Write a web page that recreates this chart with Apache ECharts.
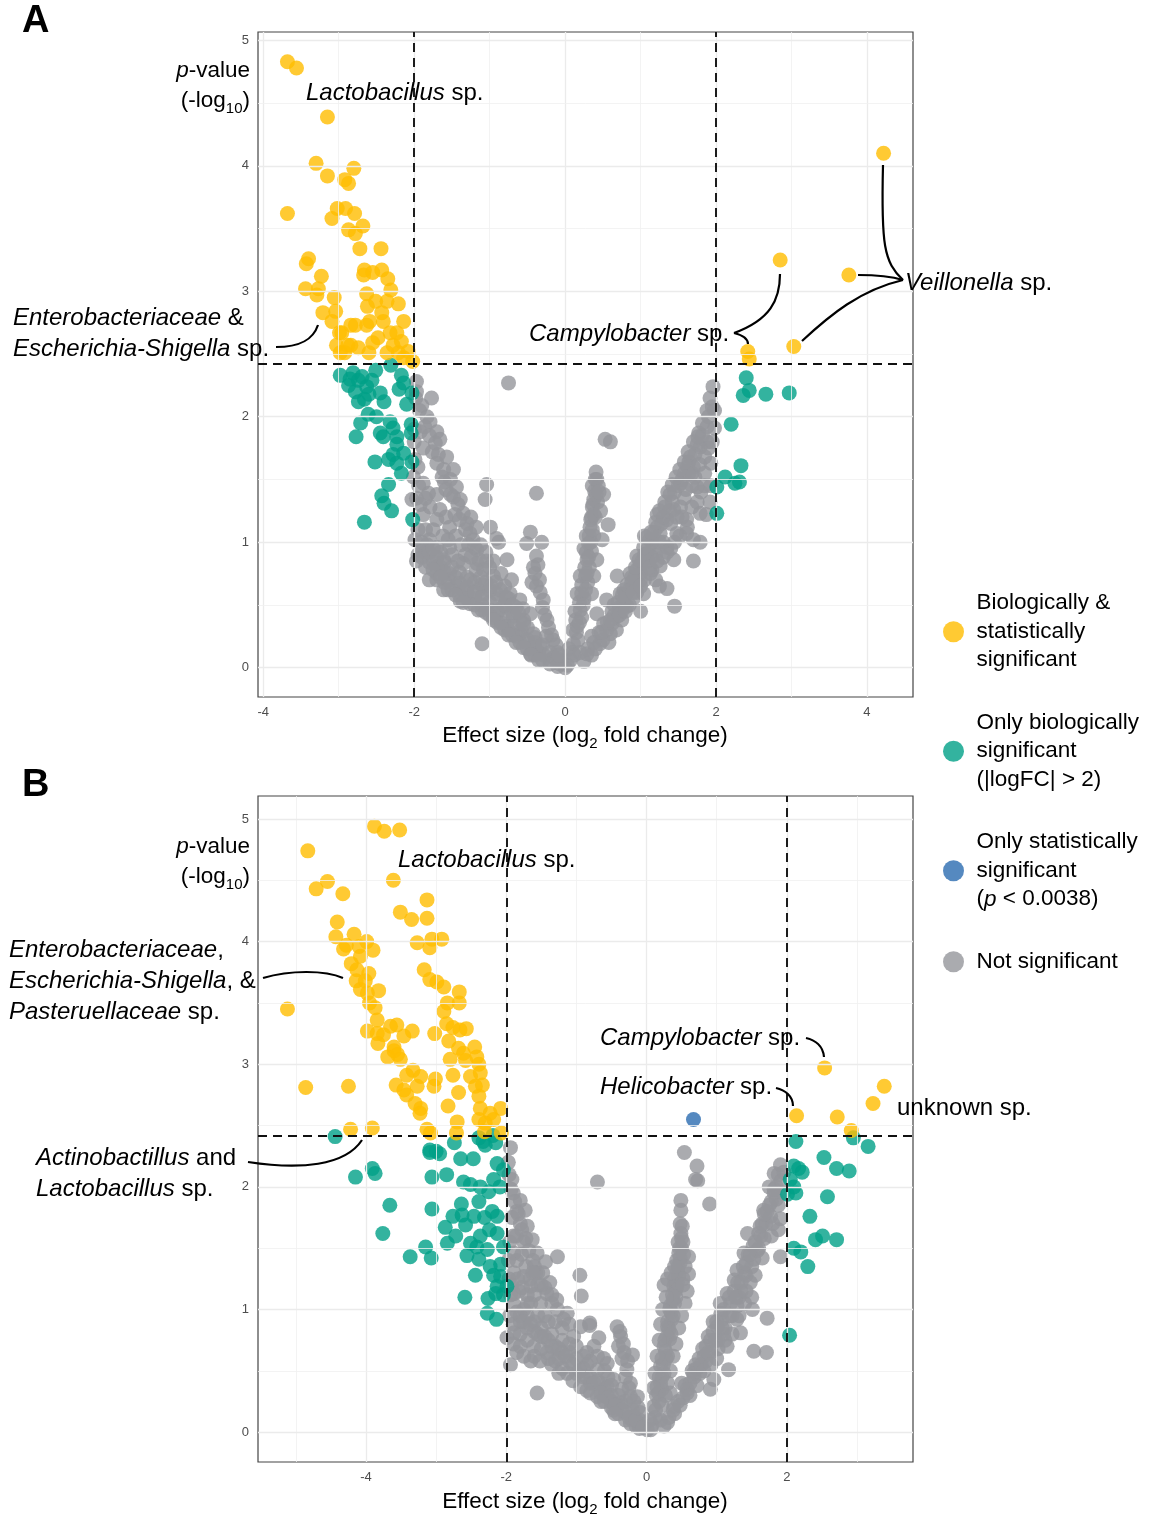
<!DOCTYPE html>
<html><head><meta charset="utf-8">
<script src="https://cdn.jsdelivr.net/npm/echarts@6/dist/echarts.min.js"></script>
<style>html,body{margin:0;padding:0;background:#fff}#c{width:1150px;height:1517px}</style>
</head><body><div id="c"></div><script>
// ---------- thresholds & ticks ----------
const fcThreshold = 2;
const pThreshold = 2.42; // -log10(0.0038)
const xTicksA = [-4, -2, 0, 2, 4];
const xMinorA = [-3, -1, 1, 3];
const xTicksB = [-4, -2, 0, 2];
const xMinorB = [-5, -3, -1, 1, 3];
const yTicks = [0, 1, 2, 3, 4, 5];
const yMinor = [0.5, 1.5, 2.5, 3.5, 4.5];

// ---------- Panel A data ----------
const aBoth = [[-3.68,4.83],[-3.56,4.78],[-3.15,4.39],[-3.30,4.02],[-2.80,3.98],[-3.15,3.92],[-2.92,3.89],[-2.87,3.86],[-3.68,3.62],[-3.02,3.66],[-2.91,3.66],[-2.79,3.62],[-3.09,3.58],[-2.68,3.52],[-2.87,3.49],[-2.78,3.46],[-2.72,3.34],[-2.44,3.34],[-3.40,3.26],[-3.43,3.22],[-3.23,3.12],[-2.66,3.17],[-2.67,3.13],[-2.55,3.15],[-2.43,3.17],[-2.35,3.10],[-2.31,3.01],[-3.44,3.02],[-3.27,3.02],[-3.29,2.97],[-3.06,2.95],[-2.63,2.98],[-2.51,2.92],[-2.62,2.88],[-2.36,2.92],[-2.21,2.90],[-3.21,2.83],[-3.04,2.84],[-3.09,2.76],[-2.43,2.83],[-2.41,2.76],[-2.14,2.76],[-2.59,2.76],[-2.63,2.73],[-2.84,2.73],[-2.78,2.73],[-2.99,2.67],[-2.96,2.67],[-2.32,2.67],[-2.23,2.67],[-2.48,2.63],[-2.55,2.59],[-3.03,2.57],[-2.88,2.57],[-2.84,2.57],[-2.74,2.55],[-2.98,2.51],[-2.92,2.51],[-2.60,2.51],[-2.36,2.51],[-2.28,2.57],[-2.17,2.60],[-2.21,2.51],[-2.08,2.52],[-2.02,2.44],[-2.14,2.47],
  [4.22,4.10],[2.85,3.25],[3.76,3.13],[3.03,2.56],[2.42,2.52],[2.44,2.46]];
const aBio = [[-2.98,2.33],[-2.87,2.25],[-2.81,2.35],[-2.74,2.29],[-2.69,2.32],[-2.63,2.24],[-2.56,2.29],[-2.51,2.37],[-2.31,2.41],[-2.17,2.33],[-2.14,2.27],[-2.03,2.19],[-2.74,2.12],[-2.66,2.14],[-2.45,2.19],[-2.40,2.12],[-2.10,2.10],[-2.61,2.02],[-2.50,2.00],[-2.71,1.95],[-2.77,1.84],[-2.45,1.87],[-2.41,1.84],[-2.32,1.96],[-2.28,1.91],[-2.23,1.84],[-2.04,1.94],[-2.04,1.87],[-2.23,1.78],[-2.14,1.71],[-2.52,1.64],[-2.34,1.66],[-2.23,1.63],[-2.03,1.64],[-2.17,1.55],[-2.34,1.46],[-2.43,1.37],[-2.40,1.31],[-2.30,1.25],[-2.66,1.16],[-2.02,1.18],[-2.85,2.30],[-2.78,2.20],[-2.60,2.18],[-2.20,2.22],[-2.28,1.70],
  [2.40,2.31],[2.44,2.21],[2.36,2.17],[2.66,2.18],[2.97,2.19],[2.20,1.94],[2.33,1.61],[2.12,1.52],[2.25,1.47],[2.31,1.48],[2.01,1.44],[2.01,1.23]];
const aNot = [[-1.97,2.28],[-1.97,2.20],[-1.77,2.15],[-1.90,2.09],[-1.83,2.00],[-1.79,1.96],[-1.70,1.88],[-1.66,1.82],[-1.92,1.88],[-1.88,1.75],[-1.72,1.79],[-1.57,1.68],[-1.48,1.58],[-1.61,1.58],[-1.70,1.63],[-1.99,1.66],[-2.01,1.52],[-1.88,1.47],[-1.81,1.39],[-1.70,1.38],[-1.97,1.35],[-2.03,1.34],[-1.79,1.28],[-1.66,1.26],[-1.44,1.44],[-1.48,1.36],[-1.39,1.34],[-1.35,1.23],[-1.30,1.15],[-1.53,1.12],[-1.70,1.18],[-1.88,1.22],[-1.95,1.10],[-1.99,1.02],[-1.83,0.98],[-1.70,0.96],[-1.53,0.96],[-1.26,1.07],[-1.22,1.02],[-1.17,0.94],[-1.97,0.85],[-1.95,0.90],[-1.61,0.86],[-1.70,0.75],[-1.53,0.75],[-1.35,0.83],[-1.17,0.83],[-1.04,0.85],[-1.61,0.62],[-1.44,0.65],[-1.26,0.70],[-1.39,0.53],[-1.26,0.51],[-1.08,0.59],[-0.95,0.73],[-0.91,0.59],[-0.99,0.46],[-0.82,0.49],[-0.73,0.59],[-0.69,0.41],[-0.60,0.54],[-0.55,0.38],[-0.46,0.43],[-0.77,0.33],[-0.60,0.27],[-0.42,0.27],[-0.33,0.17],[-0.46,0.11],[-0.20,0.06],[-0.07,0.03],[-1.10,0.19],[-0.51,0.99],[-0.46,1.08],[-0.31,1.00],[-0.38,0.89],[-0.40,0.75],[-0.38,0.65],[-0.29,0.54],[-0.24,0.38],[-0.16,0.22],[-0.38,1.39],[-0.75,2.27],[-1.04,1.46],[-1.06,1.34],[-0.99,1.12],[-0.91,1.03],[-0.77,0.86],[-0.71,0.70],[-0.88,1.00],
  [-1.85,0.92],[-1.75,0.85],[-1.65,0.80],[-1.55,0.70],[-1.45,0.72],[-1.35,0.62],[-1.30,0.60],[-1.20,0.55],[-1.15,0.62],[-1.10,0.50],[-1.00,0.52],[-0.95,0.40],[-0.88,0.45],[-0.85,0.36],[-0.80,0.40],[-0.75,0.30],[-0.68,0.33],[-0.65,0.25],[-0.58,0.30],[-0.52,0.20],[-0.50,0.32],[-0.40,0.20],[-0.35,0.12],[-0.28,0.10],[-0.25,0.25],[-0.15,0.08],[-0.10,0.12],[-0.05,0.05],[0.00,0.00],[0.03,0.02],[-1.80,0.70],[-1.60,1.48],[-1.52,1.50],[-1.42,1.30],[-1.25,1.20],[-1.18,1.12],[-1.12,0.98],[-1.05,0.92],[-1.00,0.80],[-0.95,0.85],[-0.85,0.75],[-0.80,0.65],[-0.75,0.55],[-0.65,0.48],[-0.56,0.47],
  [-1.90,0.93],[-1.90,1.00],[-1.90,0.88],[-1.80,0.92],[-1.80,0.84],[-1.80,1.02],[-1.70,0.88],[-1.70,0.80],[-1.70,0.70],[-1.60,0.84],[-1.60,0.76],[-1.60,0.68],[-1.50,0.80],[-1.50,0.62],[-1.40,0.76],[-1.40,0.67],[-1.40,0.58],[-1.30,0.72],[-1.30,0.64],[-1.30,0.55],[-1.20,0.68],[-1.20,0.60],[-1.20,0.50],[-1.10,0.66],[-1.10,0.56],[-1.10,0.46],[-1.00,0.62],[-1.00,0.42],[-0.90,0.55],[-0.90,0.45],[-0.90,0.36],[-0.80,0.50],[-0.80,0.30],[-0.70,0.44],[-0.70,0.26],[-0.60,0.38],[-0.60,0.20],[-0.50,0.22],[-0.50,0.15],[-0.40,0.24],[-0.40,0.16],[-0.40,0.10],[-0.30,0.18],[-0.30,0.06],[-0.20,0.12],[-0.20,0.03],[-0.10,0.07],[-0.10,0.01],
  [-1.98,2.15],[-1.93,2.05],[-1.86,1.92],[-1.80,1.85],[-1.76,1.72],[-1.68,1.70],[-1.63,1.52],[-1.58,1.42],[-1.52,1.38],[-1.46,1.22],[-1.40,1.18],[-1.32,1.10],[-1.28,0.98],[-1.20,0.96],[-1.14,0.86],[-1.08,0.78],[-2.00,1.90],[-2.00,1.80],[-1.95,1.60],[-1.94,1.45],[-1.92,1.30],[-1.85,1.35],[-1.85,1.10],[-1.75,1.10],[-1.62,1.05],[-1.58,1.20],
  [-1.45,1.05],[-1.38,0.98],[-1.32,0.90],[-1.25,0.88],[-1.18,0.78],[-1.12,0.72],[-1.05,0.68],[-0.98,0.65],[-0.92,0.68],[-0.86,0.62],[-0.78,0.56],[-0.70,0.50],[-0.62,0.44],[-0.55,0.35],[-1.50,0.90],[-1.42,0.85],[-1.55,1.02],[-1.65,0.92],[-1.75,0.95],[-1.85,0.80],[-1.75,0.78],[-1.65,0.72],[-1.55,0.62],[-1.45,0.58],[-1.35,0.52],[-1.15,0.46],[-1.05,0.44],[-0.95,0.38],[-0.85,0.32],[-0.75,0.26],[-0.65,0.20],[-0.55,0.16],[-0.45,0.10],[-0.35,0.06],
  [-0.36,0.82],[-0.34,0.70],[-0.33,0.60],[-0.30,0.48],[-0.27,0.42],[-0.22,0.32],[-0.18,0.26],[-0.12,0.18],[-0.08,0.10],[-0.42,0.80],[-0.44,0.68],
  [0.07,0.06],[0.11,0.19],[0.16,0.33],[0.20,0.46],[0.22,0.59],[0.27,0.73],[0.29,0.86],[0.31,0.99],[0.33,1.12],[0.35,1.20],[0.38,1.34],[0.39,1.41],[0.40,1.50],[0.41,1.56],[0.53,1.82],[0.60,1.80],[0.51,1.38],[0.57,1.14],[0.49,1.02],[0.42,0.86],[0.38,0.73],[0.35,0.59],[0.20,0.73],[0.16,0.59],[0.25,0.95],[0.28,1.05],[0.36,1.28],[0.13,0.45],[0.10,0.30],[0.05,0.15],
  [0.12,0.10],[0.17,0.22],[0.14,0.38],[0.22,0.40],[0.19,0.52],[0.25,0.55],[0.22,0.66],[0.30,0.68],[0.26,0.80],[0.32,0.80],[0.28,0.92],[0.35,0.93],[0.32,1.05],[0.38,1.05],[0.34,1.18],[0.40,1.20],[0.37,1.30],[0.43,1.32],[0.44,1.45],[0.36,1.45],
  [0.10,0.12],[0.15,0.28],[0.19,0.36],[0.24,0.50],[0.27,0.62],[0.29,0.75],[0.31,0.88],[0.34,1.00],[0.36,1.10],[0.38,1.22],[0.41,1.38],[0.42,1.50],[0.45,1.40],[0.47,1.25],
  [0.29,0.11],[0.46,0.19],[0.60,0.27],[0.51,0.35],[0.69,0.41],[0.82,0.49],[0.73,0.59],[0.91,0.65],[1.04,0.59],[0.86,0.75],[0.99,0.81],[1.08,0.91],[0.95,0.89],[1.13,0.75],[1.26,0.81],[1.17,0.96],[1.26,1.07],[1.35,0.96],[1.44,0.86],[1.48,1.07],[1.61,1.07],[1.70,1.02],[1.79,1.00],[1.70,0.85],[1.35,0.63],[1.45,0.49],[1.22,1.22],[1.35,1.18],[1.44,1.26],[1.39,1.38],[1.53,1.28],[1.61,1.18],[1.53,1.47],[1.64,1.55],[1.64,1.64],[1.70,1.60],[1.75,1.44],[1.79,1.23],[1.87,1.22],[1.92,1.32],[1.77,1.87],[1.79,1.76],[1.90,1.75],[1.93,1.63],[1.96,2.24],[1.98,1.91],[0.69,0.73],[0.55,0.54],[0.42,0.43],[0.35,0.25],[0.20,0.12],[0.78,0.62],[1.00,0.70],[1.10,0.85],[1.20,0.90],[1.30,1.00],[1.40,1.15],[1.55,1.20],[1.58,1.35],[1.68,1.45],[1.72,1.52],[1.85,1.68],[1.88,1.80],[0.90,0.55],[0.65,0.50],[0.75,0.45],[1.15,1.00],[1.05,1.05],[1.20,0.70],[1.00,0.45],[1.25,0.65],
  [0.25,0.05],[0.35,0.10],[0.40,0.15],[0.50,0.22],[0.55,0.30],[0.62,0.35],[0.65,0.42],[0.72,0.48],[0.78,0.52],[0.80,0.58],[0.85,0.62],[0.88,0.68],[0.92,0.72],[0.95,0.78],[1.00,0.75],[1.02,0.85],[1.05,0.90],[1.10,0.95],[1.12,1.02],[1.15,0.88],[1.18,1.08],[1.22,1.12],[1.25,1.00],[1.28,1.15],[1.30,1.20],[1.32,1.28],[1.38,1.25],[1.42,1.32],[1.45,1.40],[1.48,1.20],[1.50,1.45],[1.55,1.50],[1.58,1.55],[1.60,1.42],[1.62,1.60],[1.66,1.68],[1.68,1.55],[1.72,1.70],[1.75,1.78],[1.78,1.62],[1.82,1.85],[1.85,1.55],[1.88,1.92],[1.90,2.00],[1.95,2.08],[0.45,0.28],[0.58,0.20],[0.68,0.30],[0.75,0.38],[0.85,0.50],[0.95,0.60],[1.05,0.70],[1.15,0.78],[1.30,0.88],[1.40,0.95],
  [0.30,0.15],[0.38,0.20],[0.48,0.28],[0.56,0.36],[0.62,0.45],[0.70,0.52],[0.76,0.58],[0.82,0.66],[0.88,0.72],[0.93,0.80],[0.98,0.86],[1.04,0.96],[1.08,1.04],[1.14,1.08],[1.20,1.16],[1.25,1.25],[1.32,1.32],[1.36,1.40],[1.42,1.46],[1.47,1.52],[1.52,1.58],[1.58,1.64],[1.63,1.72],[1.70,1.80],[1.76,1.84],[1.82,1.95],[1.88,2.05],[1.92,2.15],[0.60,0.38],[0.72,0.42],[0.80,0.45],[0.90,0.60],[1.00,0.65],[1.12,0.80],[1.22,0.85],[1.35,0.92],[1.45,1.00],[1.52,1.05],[1.62,1.12],[1.68,1.28],[1.75,1.32],[1.80,1.40],[1.85,1.45],[1.93,1.45],[1.95,1.80],[1.98,2.05]];

// ---------- Panel B data ----------
const bBoth = [[-4.83,4.74],[-3.88,4.94],[-3.74,4.90],[-3.52,4.91],[-4.55,4.49],[-4.71,4.43],[-4.33,4.39],[-3.61,4.50],[-3.13,4.34],[-3.51,4.24],[-3.35,4.18],[-3.13,4.19],[-4.41,4.16],[-4.43,4.04],[-4.17,4.06],[-3.99,4.00],[-3.90,3.93],[-4.10,3.96],[-4.32,3.94],[-4.28,3.97],[-3.27,3.99],[-3.06,4.02],[-2.92,4.02],[-3.09,3.95],[-4.08,3.88],[-4.21,3.82],[-4.13,3.77],[-3.96,3.74],[-4.14,3.68],[-4.01,3.68],[-4.08,3.61],[-3.82,3.60],[-3.98,3.58],[-3.17,3.77],[-3.09,3.69],[-2.99,3.67],[-2.89,3.63],[-2.67,3.59],[-5.12,3.45],[-3.95,3.50],[-3.87,3.46],[-2.84,3.50],[-2.67,3.50],[-2.89,3.43],[-3.84,3.36],[-3.98,3.27],[-3.84,3.25],[-3.75,3.24],[-3.65,3.31],[-3.56,3.32],[-3.46,3.23],[-3.34,3.27],[-3.02,3.25],[-2.85,3.33],[-2.76,3.30],[-2.66,3.28],[-2.57,3.29],[-3.83,3.17],[-3.60,3.14],[-3.60,3.11],[-2.82,3.19],[-2.68,3.13],[-2.61,3.09],[-2.45,3.14],[-3.69,3.06],[-3.51,3.04],[-3.55,3.08],[-2.80,3.04],[-2.58,3.03],[-2.42,3.06],[-2.39,3.00],[-2.76,2.91],[-2.51,2.90],[-2.37,2.93],[-3.33,2.95],[-3.42,2.91],[-3.22,2.90],[-3.01,2.88],[-4.86,2.81],[-4.25,2.82],[-3.57,2.83],[-3.46,2.79],[-3.42,2.75],[-3.27,2.82],[-3.03,2.82],[-2.68,2.77],[-2.44,2.82],[-2.34,2.83],[-3.30,2.68],[-3.22,2.64],[-3.23,2.60],[-2.83,2.66],[-2.39,2.74],[-2.37,2.64],[-2.23,2.60],[-2.08,2.64],[-2.18,2.55],[-2.70,2.53],[-2.39,2.55],[-2.30,2.52],[-3.13,2.47],[-3.08,2.44],[-2.71,2.44],[-2.31,2.45],[-2.07,2.44],[-4.22,2.47],[-3.91,2.48],
  [2.54,2.97],[3.39,2.82],[3.23,2.68],[2.72,2.57],[2.14,2.58],[2.92,2.46]];
const bBio = [[-4.44,2.41],[-3.09,2.30],[-3.00,2.29],[-2.74,2.36],[-2.39,2.40],[-2.33,2.37],[-2.19,2.42],[-2.15,2.36],[-4.15,2.08],[-3.91,2.15],[-3.87,2.11],[-3.66,1.85],[-3.76,1.62],[-3.37,1.43],[-3.15,1.51],[-3.07,1.42],[-3.09,2.28],[-2.95,2.27],[-3.06,2.08],[-2.85,2.10],[-2.65,2.23],[-2.47,2.23],[-2.30,2.34],[-2.13,2.19],[-2.04,2.14],[-2.61,2.04],[-2.51,2.02],[-2.37,2.00],[-2.18,2.06],[-2.25,1.96],[-2.39,1.88],[-2.09,2.00],[-3.06,1.82],[-2.64,1.86],[-2.63,1.77],[-2.76,1.76],[-2.46,1.76],[-2.31,1.75],[-2.20,1.80],[-2.13,1.76],[-2.87,1.67],[-2.58,1.69],[-2.72,1.60],[-2.84,1.54],[-2.51,1.54],[-2.37,1.60],[-2.24,1.65],[-2.13,1.62],[-2.42,1.51],[-2.27,1.49],[-2.04,1.51],[-2.56,1.44],[-2.39,1.41],[-2.23,1.35],[-2.08,1.37],[-2.44,1.28],[-2.18,1.28],[-2.08,1.27],[-2.13,1.19],[-1.99,1.19],[-2.15,1.13],[-2.04,1.12],[-2.59,1.10],[-2.26,1.09],[-2.27,0.97],[-2.14,0.92],
  [2.13,2.37],[2.95,2.40],[3.16,2.33],[2.53,2.24],[2.71,2.15],[2.89,2.13],[2.10,2.17],[2.17,2.15],[2.22,2.12],[2.05,2.06],[2.10,2.00],[2.01,1.94],[2.13,1.95],[2.58,1.92],[2.33,1.76],[2.41,1.57],[2.51,1.60],[2.71,1.57],[2.10,1.50],[2.20,1.47],[2.30,1.35],[2.04,0.79]];
const bStat = [[0.67,2.55]];
const bNot = [[-1.94,2.32],[-1.92,2.06],[-1.97,2.20],[-1.90,1.95],[-1.80,1.89],[-1.73,1.81],[-1.85,1.80],[-1.70,1.68],[-1.80,1.70],[-1.63,1.57],[-1.75,1.55],[-1.56,1.46],[-1.44,1.39],[-1.27,1.43],[-1.89,1.46],[-1.89,1.30],[-1.75,1.27],[-1.65,1.19],[-1.89,1.13],[-1.89,1.04],[-1.51,1.05],[-1.27,1.00],[-1.18,0.92],[-1.04,0.78],[-0.85,0.65],[-0.70,0.51],[-0.56,0.37],[-0.37,0.24],[-0.18,0.13],[0.01,0.02],[-1.89,0.81],[-1.61,0.70],[-1.42,0.65],[-1.13,0.48],[-0.94,0.37],[-0.70,0.29],[-0.47,0.18],[-0.23,0.07],[-1.42,1.13],[-1.13,0.97],[-0.94,0.86],[-0.75,0.70],[-0.56,0.56],[-0.47,0.43],[-0.23,0.29],[-0.09,0.16],[-0.42,0.86],[-0.37,0.78],[-0.32,0.65],[-0.28,0.51],[-0.23,0.40],[-0.13,0.29],[-0.20,0.63],[-0.70,2.04],[-0.95,1.28],[-0.93,1.11],[-0.81,0.89],[-0.81,0.87],[-0.68,0.77],[-0.61,0.60],[-1.56,0.32],[-1.94,0.55],[-1.99,0.77],
  [-1.75,1.00],[-1.60,0.90],[-1.65,1.05],[-1.50,0.85],[-1.35,0.80],[-1.30,0.90],[-1.20,0.75],[-1.10,0.65],[-1.00,0.60],[-0.90,0.52],[-0.80,0.45],[-0.65,0.40],[-0.60,0.30],[-0.50,0.25],[-0.40,0.15],[-0.30,0.10],[-0.15,0.05],[-1.55,1.30],[-1.60,1.35],[-1.50,1.20],[-1.82,1.15],[-1.70,0.95],[-1.80,0.90],[-1.25,0.60],[-0.85,0.55],[-0.55,0.45],[-0.35,0.35],
  [-1.96,2.10],[-1.93,1.98],[-1.88,1.88],[-1.83,1.78],[-1.78,1.65],[-1.72,1.58],[-1.68,1.48],[-1.62,1.40],[-1.58,1.30],[-1.90,1.60],[-1.85,1.40],[-1.92,1.20],[-1.95,0.95],[-1.70,1.12],[-1.66,1.25],[-1.48,1.30],[-1.38,1.22],[-1.35,1.05],[-1.45,0.95],[-1.55,0.95],
  [-1.90,0.88],[-1.90,0.72],[-1.80,0.95],[-1.80,0.80],[-1.80,0.70],[-1.70,0.85],[-1.70,0.75],[-1.60,0.82],[-1.60,0.62],[-1.50,0.78],[-1.50,0.68],[-1.40,0.90],[-1.40,0.75],[-1.40,0.60],[-1.30,0.70],[-1.30,0.58],[-1.20,0.85],[-1.20,0.65],[-1.20,0.52],[-1.10,0.88],[-1.10,0.72],[-1.10,0.58],[-1.00,0.70],[-1.00,0.48],[-0.90,0.62],[-0.90,0.45],[-0.80,0.58],[-0.80,0.40],[-0.80,0.32],[-0.70,0.62],[-0.70,0.42],[-0.60,0.50],[-0.60,0.35],[-0.60,0.25],[-0.50,0.38],[-0.50,0.30],[-0.50,0.20],[-0.40,0.30],[-0.40,0.22],[-0.30,0.25],[-0.30,0.16],[-0.20,0.18],[-0.20,0.10],[-0.10,0.10],[-0.10,0.06],[-0.10,0.03],
  [-1.85,0.98],[-1.75,0.90],[-1.65,0.88],[-1.55,0.80],[-1.45,0.78],[-1.35,0.70],[-1.25,0.68],[-1.15,0.62],[-1.05,0.55],[-0.95,0.50],[-0.85,0.45],[-0.75,0.40],[-0.65,0.32],[-0.55,0.28],[-0.45,0.22],[-0.35,0.18],[-0.25,0.12],[-0.15,0.10],[-0.05,0.04],[-1.85,0.65],[-1.75,0.62],[-1.65,0.58],[-1.52,0.58],[-1.35,0.55],[-1.25,0.48],[-1.05,0.42],[-0.85,0.34],[-0.65,0.25],[-0.45,0.15],[-1.78,1.45],[-1.72,1.35],[-1.62,1.30],[-1.55,1.20],[-1.45,1.18],[-1.35,1.12],[-1.28,1.08],[-1.92,1.75],[-1.95,1.55],[-1.97,1.40],[-1.96,1.25],[-1.94,1.12],[-1.86,1.60],[-1.84,1.25],[-1.77,1.18],[-1.60,1.12],[-1.70,1.05],
  [-0.40,0.70],[-0.35,0.60],[-0.30,0.45],[-0.25,0.36],[-0.18,0.25],[-0.12,0.20],[-0.38,0.82],[-0.33,0.72],[-0.27,0.58],
  [0.49,1.62],[0.46,1.46],[0.44,1.32],[0.39,1.19],[0.34,1.03],[0.30,0.86],[0.25,0.70],[0.20,0.54],[0.15,0.37],[0.10,0.21],[0.49,1.89],[0.49,1.81],[0.54,2.28],[0.72,2.17],[0.70,2.06],[0.73,2.05],[0.90,1.86],[0.60,1.43],[0.60,1.29],[0.58,1.15],[0.50,1.50],[0.48,1.38],[0.42,1.10],[0.38,0.95],[0.35,0.80],[0.28,0.60],[0.22,0.45],[0.05,0.10],
  [0.12,0.12],[0.18,0.25],[0.14,0.30],[0.22,0.35],[0.18,0.45],[0.25,0.48],[0.22,0.60],[0.30,0.62],[0.26,0.75],[0.33,0.76],[0.30,0.90],[0.36,0.92],[0.33,1.00],[0.40,1.05],[0.37,1.12],[0.43,1.18],[0.40,1.25],[0.46,1.28],[0.43,1.40],[0.48,1.42],[0.45,1.55],[0.52,1.55],[0.48,1.70],
  [0.08,0.06],[0.13,0.18],[0.17,0.32],[0.20,0.40],[0.24,0.55],[0.27,0.66],[0.29,0.78],[0.32,0.84],[0.35,0.98],[0.38,1.08],[0.41,1.15],[0.44,1.22],[0.45,1.35],[0.47,1.50],[0.50,1.58],[0.51,1.68],[0.53,1.45],[0.55,1.35],[0.52,1.25],[0.25,1.20],[0.30,1.25],[0.35,1.30],[0.40,1.35],[0.28,1.10],[0.23,1.00],[0.20,0.88],[0.18,0.75],[0.15,0.62],[0.12,0.48],[0.10,0.36],[0.52,1.20],[0.55,1.05],[0.50,0.95],[0.46,0.85],[0.42,0.72],[0.38,0.62],[0.34,0.50],[0.30,0.40],[0.27,0.30],[0.22,0.22],
  [1.91,2.18],[1.82,2.11],[1.82,1.95],[1.67,1.81],[1.77,1.76],[1.91,1.74],[1.44,1.62],[1.63,1.60],[1.39,1.46],[1.53,1.41],[1.91,1.43],[1.29,1.32],[1.25,1.24],[1.48,1.22],[1.15,1.13],[1.29,1.03],[1.51,1.00],[1.72,0.93],[1.06,0.97],[1.01,0.86],[1.29,0.92],[1.34,0.81],[0.91,0.75],[1.15,0.70],[1.53,0.66],[1.71,0.65],[0.82,0.62],[1.17,0.51],[0.67,0.48],[0.96,0.43],[0.91,0.35],[0.58,0.32],[0.39,0.21],[0.20,0.10],[0.06,0.02],[0.34,0.32],[0.76,0.48],[1.00,0.60],[1.10,0.80],[1.20,1.05],[1.35,1.15],[1.40,1.30],[1.60,1.50],[1.70,1.70],[1.85,1.90],[1.75,2.00],[0.50,0.40],[0.70,0.55],[0.85,0.70],[0.95,0.90],[1.05,1.05],
  [0.25,0.05],[0.32,0.12],[0.40,0.15],[0.45,0.25],[0.52,0.28],[0.55,0.38],[0.62,0.40],[0.65,0.50],[0.72,0.52],[0.75,0.60],[0.80,0.68],[0.85,0.58],[0.88,0.78],[0.92,0.65],[0.95,0.82],[1.00,0.90],[1.02,0.75],[1.08,0.92],[1.10,1.00],[1.12,0.85],[1.18,1.10],[1.22,0.95],[1.25,1.15],[1.30,1.22],[1.32,1.10],[1.38,1.35],[1.42,1.28],[1.45,1.45],[1.50,1.35],[1.52,1.52],[1.58,1.48],[1.60,1.62],[1.65,1.70],[1.68,1.58],[1.72,1.80],[1.78,1.88],[1.80,1.70],[1.85,2.00],[1.88,1.85],[1.92,2.05],[1.95,1.95],[1.40,1.05],[1.50,1.10],
  [0.30,0.08],[0.38,0.18],[0.48,0.22],[0.58,0.35],[0.68,0.45],[0.78,0.55],[0.88,0.65],[0.98,0.75],[1.08,0.85],[1.18,0.95],[1.28,1.10],[1.35,1.22],[1.42,1.38],[1.48,1.45],[1.55,1.55],[1.62,1.68],[1.68,1.78],[1.75,1.85],[1.82,1.98],[1.88,2.10],[1.96,2.12],[0.62,0.30],[0.72,0.38],[0.82,0.50],[0.92,0.55],[1.02,0.68],[1.12,0.75],[1.22,0.80],[1.32,0.95],[1.42,1.15],[1.55,1.28],[1.65,1.42],[1.78,1.60],[1.88,1.65]];

// ---------- legend labels ----------
const legendNames = ['both', 'bio', 'stat', 'ns'];
const legendLabels = {
  both: 'Biologically &\nstatistically\nsignificant',
  bio: 'Only biologically\nsignificant\n(|logFC| > 2)',
  stat: 'Only statistically\nsignificant\n({i|p} < 0.0038)',
  ns: 'Not significant'
};

const FONT = "'Liberation Sans', Arial, Helvetica, sans-serif";
const COLORS = { both: '#FFBD00', bio: '#00A087', stat: '#2A6CB0', ns: '#95969B' };

function xAxis(gi, min, max, ticks) {
  return { gridIndex: gi, type: 'value', min, max,
    axisLine: { show: false }, splitLine: { show: false },
    axisTick: { show: true, length: 5, customValues: ticks, lineStyle: { color: '#333', width: 1 } },
    axisLabel: { customValues: ticks, fontSize: 13, color: '#4d4d4d', margin: 9, fontFamily: FONT } };
}
function yAxis(gi, min, max) {
  return { gridIndex: gi, type: 'value', min, max,
    axisLine: { show: false }, splitLine: { show: false },
    axisTick: { show: true, length: 5, customValues: yTicks, lineStyle: { color: '#333', width: 1 } },
    axisLabel: { customValues: yTicks, fontSize: 13, color: '#4d4d4d', margin: 9, fontFamily: FONT } };
}
function gridSeries(i, xMaj, xMin) {
  const maj = { color: '#EBEBEB', width: 1.3, type: 'solid' };
  const mn = { color: '#F0F0F0', width: 0.8, type: 'solid' };
  const d = [].concat(
    xMaj.map(v => ({ xAxis: v, lineStyle: maj })),
    xMin.map(v => ({ xAxis: v, lineStyle: mn })),
    yTicks.map(v => ({ yAxis: v, lineStyle: maj })),
    yMinor.map(v => ({ yAxis: v, lineStyle: mn })));
  return { type: 'scatter', xAxisIndex: i, yAxisIndex: i, data: [], z: 1, silent: true,
    markLine: { silent: true, symbol: ['none', 'none'], animation: false, label: { show: false },
      emphasis: { disabled: true }, data: d } };
}
function threshSeries(i) {
  const ls = { color: '#111', width: 1.9, type: [9, 6] };
  return { type: 'scatter', xAxisIndex: i, yAxisIndex: i, data: [], z: 10, silent: true,
    markLine: { silent: true, symbol: ['none', 'none'], animation: false, label: { show: false },
      emphasis: { disabled: true },
      data: [{ xAxis: -fcThreshold, lineStyle: ls }, { xAxis: fcThreshold, lineStyle: ls }, { yAxis: pThreshold, lineStyle: ls }] } };
}
function pts(name, data, i) {
  return { name, type: 'scatter', xAxisIndex: i, yAxisIndex: i, data, symbol: 'circle', symbolSize: 15, z: 3,
    silent: true, animation: false, itemStyle: { color: COLORS[name], opacity: 0.8 } };
}

function rich(size) {
  return {
    i: { fontStyle: 'italic', fontSize: size, fontFamily: FONT, fill: '#000' },
    s: { fontSize: Math.round(size * 0.68), fontFamily: FONT, fill: '#000', verticalAlign: 'bottom', lineHeight: 14 }
  };
}
function txt(x, y, text, size, align, weight) {
  return { type: 'text', x, y, silent: true, z: 20,
    style: { text, align: align || 'left', verticalAlign: 'middle', fontSize: size, fontFamily: FONT,
      fontWeight: weight || 'normal', fill: '#000', lineHeight: 30, rich: rich(size) } };
}
function curve(x1, y1, cx1, cy1, cx2, cy2, x2, y2) {
  return { type: 'bezierCurve', silent: true, z: 20,
    shape: { x1, y1, cpx1: cx1, cpy1: cy1, cpx2: cx2, cpy2: cy2, x2, y2 },
    style: { stroke: '#000', lineWidth: 2.2, fill: null } };
}

const graphics = [
  // Panel A
  txt(22, 22, 'A', 38, 'left', 'bold'),
  txt(250, 71, '{i|p}-value', 22.5, 'right'),
  txt(250, 101, '(-log{s|10})', 22.5, 'right'),
  txt(306, 93, '{i|Lactobacillus} sp.', 24),
  txt(13, 318, '{i|Enterobacteriaceae} &', 24),
  txt(13, 349, '{i|Escherichia-Shigella} sp.', 24),
  txt(529, 334, '{i|Campylobacter} sp.', 24),
  txt(905, 283, '{i|Veillonella} sp.', 24),
  txt(585, 736, 'Effect size (log{s|2} fold change)', 22.5, 'center'),
  curve(276, 347, 300, 347, 313, 340, 318, 325),
  curve(780, 274, 780, 300, 770, 320, 734, 333),
  curve(734, 333, 742, 335, 748, 338, 748, 344),
  curve(883, 165, 881, 245, 884, 262, 903, 280),
  curve(858, 275, 876, 275, 890, 276, 903, 280),
  curve(802, 341, 830, 315, 860, 290, 903, 280),
  // Panel B
  txt(22, 786, 'B', 38, 'left', 'bold'),
  txt(250, 847, '{i|p}-value', 22.5, 'right'),
  txt(250, 877, '(-log{s|10})', 22.5, 'right'),
  txt(398, 860, '{i|Lactobacillus} sp.', 24),
  txt(9, 950, '{i|Enterobacteriaceae},', 24),
  txt(9, 981, '{i|Escherichia-Shigella}, &', 24),
  txt(9, 1012, '{i|Pasteruellaceae} sp.', 24),
  txt(36, 1158, '{i|Actinobactillus} and', 24),
  txt(36, 1189, '{i|Lactobacillus} sp.', 24),
  txt(600, 1038, '{i|Campylobacter} sp.', 24),
  txt(600, 1087, '{i|Helicobacter} sp.', 24),
  txt(897, 1108, 'unknown sp.', 24),
  txt(585, 1502, 'Effect size (log{s|2} fold change)', 22.5, 'center'),
  curve(263, 978, 290, 970, 325, 970, 343, 978),
  curve(248, 1162, 300, 1170, 345, 1166, 362, 1140),
  curve(806, 1038, 815, 1040, 823, 1046, 824, 1057),
  curve(776, 1088, 785, 1090, 793, 1096, 793, 1106)
];

const chart = echarts.init(document.getElementById('c'), null, { renderer: 'canvas' });
chart.setOption({
  animation: false,
  backgroundColor: '#fff',
  grid: [
    { left: 258, top: 32, width: 655, height: 665, show: true, borderColor: '#444', borderWidth: 1.2, backgroundColor: 'transparent', containLabel: false },
    { left: 258, top: 796, width: 655, height: 666, show: true, borderColor: '#444', borderWidth: 1.2, backgroundColor: 'transparent', containLabel: false }
  ],
  xAxis: [xAxis(0, -4.07, 4.61, xTicksA), xAxis(1, -5.54, 3.80, xTicksB)],
  yAxis: [yAxis(0, -0.234, 5.067), yAxis(1, -0.243, 5.187)],
  legend: {
    orient: 'vertical', left: 938, top: 584, itemWidth: 36, itemHeight: 21, itemGap: 34,
    icon: 'circle', selectedMode: false, data: legendNames,
    formatter: n => legendLabels[n],
    textStyle: { fontSize: 22.5, lineHeight: 28.5, fontFamily: FONT, color: '#000',
      rich: { i: { fontStyle: 'italic', fontSize: 22.5, lineHeight: 28.5, fontFamily: FONT, color: '#000' } } }
  },
  series: [
    gridSeries(0, xTicksA, xMinorA),
    pts('ns', aNot, 0), pts('bio', aBio, 0), pts('both', aBoth, 0),
    threshSeries(0),
    gridSeries(1, xTicksB, xMinorB),
    pts('ns', bNot, 1), pts('bio', bBio, 1), pts('stat', bStat, 1), pts('both', bBoth, 1),
    threshSeries(1)
  ],
  graphic: graphics
});
</script></body></html>
